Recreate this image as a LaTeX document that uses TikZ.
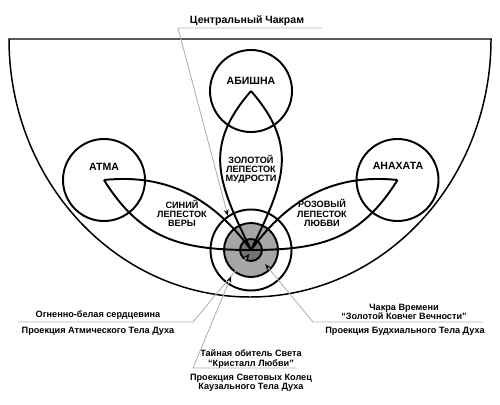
\documentclass[tikz,border=0pt]{standalone}
\usepackage{fontspec}
\setmainfont{Liberation Sans}
\usepackage{tikz}
\usetikzlibrary{arrows.meta,positioning,calc}

\begin{document}
\begin{tikzpicture}[
    chakra/.style={circle, draw, line width=1.1pt, minimum size=1.64cm, inner sep=0pt},
    petal/.style={line width=1.1pt},
    leader/.style={black!30, line width=0.5pt},
    pointer/.style={leader, -{Stealth[black, length=3.5pt, width=2.8pt]}},
    title/.style={font=\fontsize{6}{7}\selectfont\bfseries, inner sep=0pt},
    caption/.style={font=\fontsize{5.2}{5.2}\selectfont\bfseries, align=center, inner sep=0pt},
]
    \useasboundingbox (0,0) rectangle (10,8.08);

    % Outer half circle
    \draw[line width=0.85pt] (0.18,7.30) arc[start angle=180, end angle=360, x radius=4.82, y radius=5.16] -- cycle;

    % Central chakra rings
    \node[chakra, fill=white, minimum size=1.62cm] (ring) at (5.02,3.08) {};
    \node[chakra, fill=black!35, minimum size=1.08cm] (core) at (5.02,3.08) {};
    \node[chakra, fill=black!55, minimum size=0.44cm] (heart) at (5.02,3.08) {};

    % Outer chakras
    \node[chakra] (atma) at (2.08,4.48) {};
    \node[chakra] (abishna) at (5.02,6.26) {};
    \node[chakra] (anahata) at (7.95,4.48) {};

    % Petals
    \draw[petal] (abishna.center) to[out=229, in=116, looseness=1.2] (ring.center);
    \draw[petal] (abishna.center) to[out=311, in=64, looseness=1.2] (ring.center);
    \draw[petal] (atma.center) to[out=6, in=126] (ring.center);
    \draw[petal] (atma.center) to[out=-58, in=180, looseness=1.1] (ring.center);
    \draw[petal] (anahata.center) to[out=174, in=54] (ring.center);
    \draw[petal] (anahata.center) to[out=238, in=0, looseness=1.1] (ring.center);

    \node[title] (abishnaText) at (5.02,6.46) {АБИШНА};
    \node[title] (atmaText) at (2.08,4.74) {АТМА};
    \node[title] (anahataText) at (7.96,4.76) {АНАХАТА};

    \node[caption] (goldText) at (5.02,4.70) {ЗОЛОТОЙ\\ЛЕПЕСТОК\\МУДРОСТИ};
    \node[caption] (blueText) at (3.64,3.82) {СИНИЙ\\ЛЕПЕСТОК\\ВЕРЫ};
    \node[caption] (pinkText) at (6.44,3.82) {РОЗОВЫЙ\\ЛЕПЕСТОК\\ЛЮБВИ};

    % Leader texts
    \node[title] (centralText) at (4.94,7.66) {Центральный Чакрам};
    \node[caption] (coreText) at (1.96,1.78) {Огненно-белая сердцевина};
    \node[caption] (coreProj) at (1.96,1.46) {Проекция Атмического Тела Духа};
    \node[caption] (crystalText) at (5.02,0.90) {Тайная обитель Света\\“Кристалл Любви”};
    \node[caption] (crystalProj) at (5.02,0.43) {Проекция Световых Колец\\Каузального Тела Духа};
    \node[caption] (timeText) at (8.08,1.85) {Чакра Времени\\“Золотой Ковчег Вечности”};
    \node[caption] (timeProj) at (8.10,1.46) {Проекция Будхиального Тела Духа};

    % Leader lines
    \coordinate (centralL) at (3.56,7.52);
    \coordinate (centralR) at (6.44,7.52);
    \draw[pointer] (centralR) -- (centralL) -- (ring.124);

    \coordinate (coreL) at (0.36,1.64);
    \coordinate (coreR) at (3.86,1.64);
    \draw[pointer] (coreL) -- (coreR) -- ($(heart.center)+(-0.03,-0.08)$);

    \coordinate (crystalL) at (3.86,0.72);
    \coordinate (crystalR) at (5.94,0.72);
    \draw[pointer] (crystalR) -- (crystalL) -- ($(ring.center)+(233:0.66)$);

    \coordinate (timeL) at (6.26,1.64);
    \coordinate (timeR) at (9.66,1.64);
    \draw[pointer] (timeR) -- (timeL) -- ($(ring.center)+(-45:0.40)$);
\end{tikzpicture}
\end{document}
